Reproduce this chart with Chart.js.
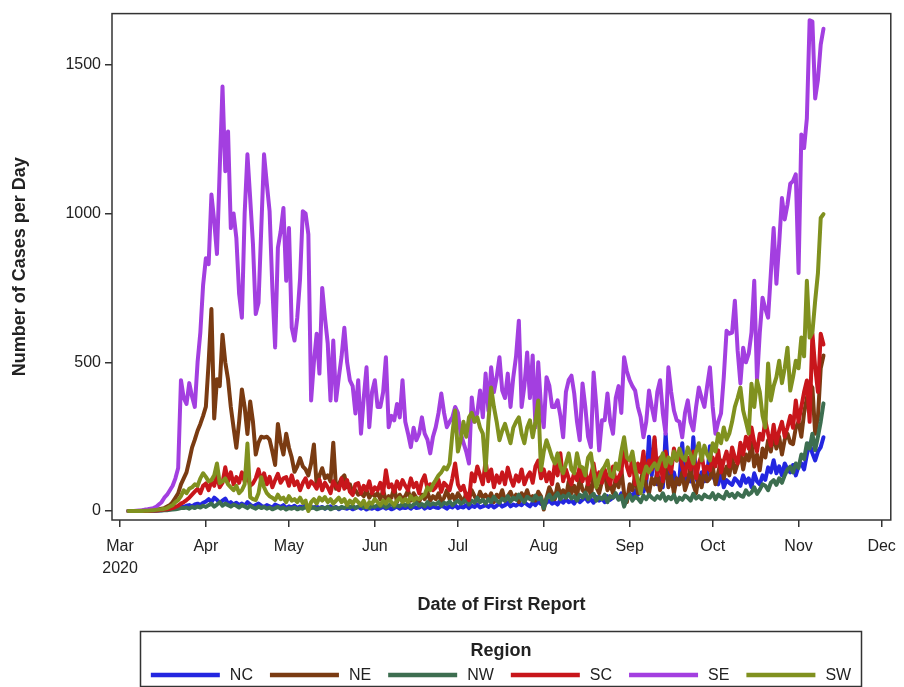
<!DOCTYPE html>
<html>
<head>
<meta charset="utf-8">
<script src="https://cdn.jsdelivr.net/npm/chart.js@4.4.1/dist/chart.umd.min.js"></script>
<style>
  html, body { margin: 0; padding: 0; background: #fff; }
  canvas { display: block; }
</style>
</head>
<body>
<canvas id="chart" width="904" height="687"></canvas>
<script>
const regions = ["NC", "NE", "NW", "SC", "SE", "SW"];
const colors = ["#2326e0", "#7a3b12", "#3d6e50", "#c8161b", "#a33fe0", "#80911f"];

// day 0 = Mar 1 2020, series start on Mar 4
const startDay = 3;
const monthTicks = [0, 31, 61, 92, 122, 153, 184, 214, 245, 275];
const monthLabels = [["Mar", "2020"], "Apr", "May", "Jun", "Jul", "Aug", "Sep", "Oct", "Nov", "Dec"];
const yTicks = [0, 500, 1000, 1500];

const nc = [
    0,0,0,0,0,0,0,1,1,1, 2,2,3,4,5,6,8,10,12,15,
    14,18,20,16,22,25,20,28,32,40, 30,45,38,28,35,42,25,30,22,28,
    20,25,18,30,22,15,20,25,18,14, 20,16,12,22,18,14,20,10,16,12,
    18,10,15,12,20,8,14,12,16,10, 14,8,12,16,10,14,6,12,10,8,
    12,6,10,14,8,12,5,10,8,12, 6,10,14,8,12,6,10,15,8,12,
    10,14,8,16,10,12,18,8,14,10, 16,12,10,18,14,8,16,12,20,10,
    15,12,20,10,18,14,22,12,16,20, 14,22,12,18,25,15,20,28,16,22,
    18,25,20,30,22,16,28,20,32,24, 20,28,35,25,30,22,38,28,40,30,
    35,25,42,30,38,45,32,40,28,48, 35,42,30,50,38,45,55,40,60,48,
    50,60,45,70,55,80,65,90,250,120, 240,90,110,80,260,120,100,130,90,110,
    228,95,120,100,248,110,90,130,100,120, 218,120,100,90,130,80,104,95,88,110,
    100,85,120,95,110,80,127,100,90,120, 105,147,130,171,127,150,120,160,140,130,
    155,120,150,160,140,190,228,194,170,200, 215,248
];
const ne = [
    0,0,0,0,0,1,1,2,3,4, 5,6,8,10,15,20,30,45,60,90,
    110,130,170,213,240,270,293,320,351,500, 679,311,443,420,593,500,443,350,280,213,
    300,409,350,259,368,300,190,230,250,247, 250,240,200,155,293,230,190,260,213,180,
    132,150,178,150,140,120,160,224,86,120, 144,110,120,100,230,75,90,110,120,80,
    90,63,70,55,60,50,70,45,60,50, 60,40,70,35,50,45,80,30,55,40,
    50,70,35,60,45,30,55,40,65,35, 50,40,60,30,45,70,40,55,35,60,
    45,30,60,40,70,50,35,65,45,55, 40,60,30,55,45,70,35,50,65,40,
    55,30,60,45,70,40,50,35,65,50, 5,45,80,60,40,90,55,70,45,100,
    60,85,50,110,70,60,95,50,120,80, 60,100,130,70,90,60,110,80,140,60,
    30,90,70,120,60,100,140,80,60,110, 90,130,70,100,150,80,120,60,110,90,
    130,70,100,150,90,60,120,80,140,100, 110,150,90,130,170,110,150,120,180,130,
    160,200,140,190,170,230,150,190,137,210, 180,238,200,260,210,250,190,240,260,230,
    225,280,300,250,330,380,428,415,260,315, 480,523
];
const nw = [
    0,0,0,0,0,0,0,0,1,1, 1,2,2,3,3,4,5,6,8,10,
    10,12,8,14,10,15,12,18,14,20, 25,15,22,30,18,25,20,15,22,18,
    12,20,15,10,18,12,8,15,10,14, 8,12,6,10,14,8,12,5,10,8,
    12,6,10,8,14,5,10,12,6,9, 12,8,15,6,10,12,8,14,10,16,
    12,18,10,15,20,12,16,10,18,14, 20,15,22,12,18,25,14,20,16,24,
    18,26,14,22,28,18,24,16,30,20, 26,22,30,18,28,24,32,20,28,35,
    25,30,40,22,35,28,45,30,38,25, 40,30,48,35,28,42,35,50,32,45,
    38,55,40,30,48,42,35,52,40,45, 10,42,55,38,48,60,40,52,45,58,
    42,50,35,55,45,62,40,50,58,35, 48,40,55,30,50,45,60,38,52,15,
    40,55,35,48,42,30,52,40,55,45, 38,50,42,60,35,48,40,55,30,45,
    38,52,45,35,58,42,50,40,55,48, 45,60,40,55,48,42,65,50,58,45,
    60,52,48,70,55,62,80,58,72,90, 85,70,95,104,88,110,95,120,140,149,
    130,160,145,190,175,228,210,260,205,250, 300,362
];
const sc = [
    0,0,0,0,0,0,0,1,1,2, 2,3,4,5,6,8,10,14,18,25,
    30,37,45,55,65,75,60,85,93,70, 100,85,120,80,95,147,100,130,90,114,
    95,130,100,120,85,93,110,140,100,127, 90,115,80,104,125,95,110,114,85,120,
    87,100,70,94,110,80,100,90,75,105, 70,95,80,60,100,85,70,110,75,104,
    65,54,90,94,60,85,70,100,60,80, 70,95,60,137,80,90,65,100,75,104,
    85,70,110,80,95,60,100,120,75,90, 70,80,105,65,95,85,70,110,160,90,
    70,85,50,37,127,100,150,120,90,170, 100,140,80,120,95,130,90,146,110,85,
    120,100,140,90,115,130,95,150,170,110, 140,100,130,90,160,120,194,100,140,110,
    90,130,104,150,100,137,90,120,160,100, 130,95,140,110,90,150,100,114,130,214,
    150,120,180,90,160,130,200,110,170,140, 248,120,180,100,200,150,130,210,170,194,
    150,120,180,140,200,110,160,190,130,150, 137,180,150,204,130,170,200,150,214,180,
    160,230,190,250,210,281,230,200,260,240, 305,260,220,290,228,270,300,250,281,320,
    280,372,300,350,400,439,300,596,483,400, 596,560
];
const se = [
    0,0,0,1,2,3,5,6,8,10, 14,22,30,45,55,70,85,110,145,440,
    380,360,430,385,350,500,600,760,850,830, 1064,975,864,1150,1427,1142,1276,951,1000,918,
    730,650,1000,1199,1050,897,662,700,950,1199, 1100,1008,750,550,885,940,1019,774,951,617,
    573,650,780,1008,1000,930,372,500,596,462, 750,650,563,372,573,372,450,520,616,500,
    439,420,328,440,260,380,483,282,400,440, 350,350,400,517,282,320,305,360,315,440,
    300,260,215,280,238,260,315,260,240,194, 250,282,330,395,330,282,300,315,350,330,
    260,230,200,160,382,300,330,405,315,462, 338,483,400,450,517,405,380,462,350,450,
    520,640,350,420,533,380,523,282,500,350, 282,450,422,350,350,372,320,248,400,440,
    455,395,300,238,429,350,250,215,466,350, 204,305,305,395,300,260,380,420,330,517,
    470,440,420,405,350,315,248,300,405,350, 305,400,440,328,260,483,400,338,305,300,
    248,330,372,300,271,350,415,380,350,420, 483,350,260,300,328,450,606,596,600,707,
    540,429,549,500,529,600,774,439,600,717, 680,650,800,951,764,900,1052,980,1030,1100,
    1109,1132,800,1266,1220,1320,1650,1645,1387,1450, 1568,1621
];
const sw = [
    0,0,0,0,0,0,1,1,2,3, 4,5,6,8,10,15,20,30,37,50,
    70,60,75,80,90,85,110,127,115,100, 104,120,160,94,100,110,90,80,70,85,
    60,70,90,227,47,40,37,60,114,80, 60,50,45,37,55,40,45,30,50,35,
    40,30,45,27,35,0,30,40,25,45, 35,47,30,40,25,35,45,30,40,20,
    35,25,40,30,20,35,13,30,25,40, 30,20,35,25,40,30,20,35,45,30,
    40,30,50,35,45,40,47,55,80,70, 90,104,120,130,147,140,160,260,338,200,
    238,300,250,315,330,300,315,280,260,137, 300,415,350,300,238,270,293,260,228,280,
    300,315,260,228,280,305,248,300,372,137, 200,238,210,180,160,194,150,127,160,194,
    140,127,194,150,147,120,180,194,130,80, 110,137,150,170,120,114,160,140,200,248,
    180,170,200,140,100,60,120,150,130,147, 160,140,170,194,150,180,160,200,170,210,
    180,170,214,190,160,200,228,170,220,190, 170,228,200,260,228,281,240,261,300,350,
    380,415,338,300,261,428,350,439,400,320, 281,496,372,420,450,505,430,480,549,405,
    450,505,480,583,520,774,583,600,707,800, 985,998
];

const seriesValues = [nc, ne, nw, sc, se, sw];
const fontFamily = "'Liberation Sans', Arial, sans-serif";
Chart.defaults.font.family = fontFamily;
Chart.defaults.color = "#222";

const datasets = regions.map(function (name, i) {
    return {
        label: name,
        data: seriesValues[i].map(function (v, k) { return { x: startDay + k, y: v }; }),
        borderColor: colors[i],
        backgroundColor: colors[i],
        borderWidth: 4,
        borderJoinStyle: "round",
        borderCapStyle: "round",
        pointRadius: 0,
        tension: 0,
        order: regions.length - 1 - i,
    };
});

// box around the plot area
const framePlugin = {
    id: "frame",
    afterDraw: function (chart) {
        const a = chart.chartArea;
        const ctx = chart.ctx;
        ctx.save();
        ctx.strokeStyle = "#333";
        ctx.lineWidth = 1.5;
        ctx.strokeRect(a.left, a.top, a.right - a.left, a.bottom - a.top);
        ctx.restore();
    },
};

// "Region" legend in a framed box under the x axis
const regionLegend = {
    id: "regionLegend",
    afterDraw: function (chart) {
        const ctx = chart.ctx;
        const box = { left: 140.5, top: 631.5, width: 721, height: 55 };
        const cx = box.left + box.width / 2;
        ctx.save();
        ctx.strokeStyle = "#333";
        ctx.lineWidth = 1.5;
        ctx.strokeRect(box.left, box.top, box.width, box.height);

        ctx.fillStyle = "#222";
        ctx.textBaseline = "middle";
        ctx.textAlign = "center";
        ctx.font = "bold 18px " + fontFamily;
        ctx.fillText("Region", cx, 651);

        ctx.font = "16px " + fontFamily;
        ctx.textAlign = "left";
        const sample = 69, gapText = 10, gapItem = 17;
        const widths = chart.data.datasets.map(function (d) {
            return sample + gapText + ctx.measureText(d.label).width;
        });
        const total = widths.reduce(function (s, w) { return s + w; }, 0) + gapItem * (widths.length - 1);
        let x = cx - total / 2;
        const y = 675;
        chart.data.datasets.forEach(function (d, i) {
            ctx.strokeStyle = d.borderColor;
            ctx.lineWidth = 4.5;
            ctx.beginPath();
            ctx.moveTo(x, y);
            ctx.lineTo(x + sample, y);
            ctx.stroke();
            ctx.fillText(d.label, x + sample + gapText, y + 1);
            x += widths[i] + gapItem;
        });
        ctx.restore();
    },
};

new Chart(document.getElementById("chart"), {
    type: "line",
    data: { datasets: datasets },
    options: {
        responsive: false,
        animation: false,
        layout: { padding: { left: 0, top: 12, right: 11, bottom: 67 } },
        plugins: {
            legend: { display: false },
            tooltip: { enabled: false },
        },
        scales: {
            x: {
                type: "linear",
                min: -2.9,
                max: 278.3,
                afterBuildTicks: function (s) { s.ticks = monthTicks.map(function (v) { return { value: v }; }); },
                afterFit: function (s) { s.height = 100; },
                ticks: {
                    autoSkip: false,
                    maxRotation: 0,
                    padding: 8,
                    font: { size: 16, lineHeight: 1.4 },
                    callback: function (v, i) { return monthLabels[i]; },
                },
                grid: { drawOnChartArea: false, tickLength: 7, color: "#333", lineWidth: 1.5 },
                border: { display: false },
                title: {
                    display: true,
                    text: "Date of First Report",
                    font: { size: 18, weight: "bold" },
                    color: "#222",
                },
            },
            y: {
                min: -30,
                max: 1672,
                afterBuildTicks: function (s) { s.ticks = yTicks.map(function (v) { return { value: v }; }); },
                afterFit: function (s) { s.width = 112; },
                ticks: {
                    padding: 4,
                    font: { size: 16 },
                    callback: function (v) { return String(v); },
                },
                grid: { drawOnChartArea: false, tickLength: 7, color: "#333", lineWidth: 1.5 },
                border: { display: false },
                title: {
                    display: true,
                    text: "Number of Cases per Day",
                    font: { size: 18, weight: "bold" },
                    color: "#222",
                    padding: { top: 9, bottom: 0 },
                },
            },
        },
    },
    plugins: [framePlugin, regionLegend],
});
</script>
</body>
</html>
